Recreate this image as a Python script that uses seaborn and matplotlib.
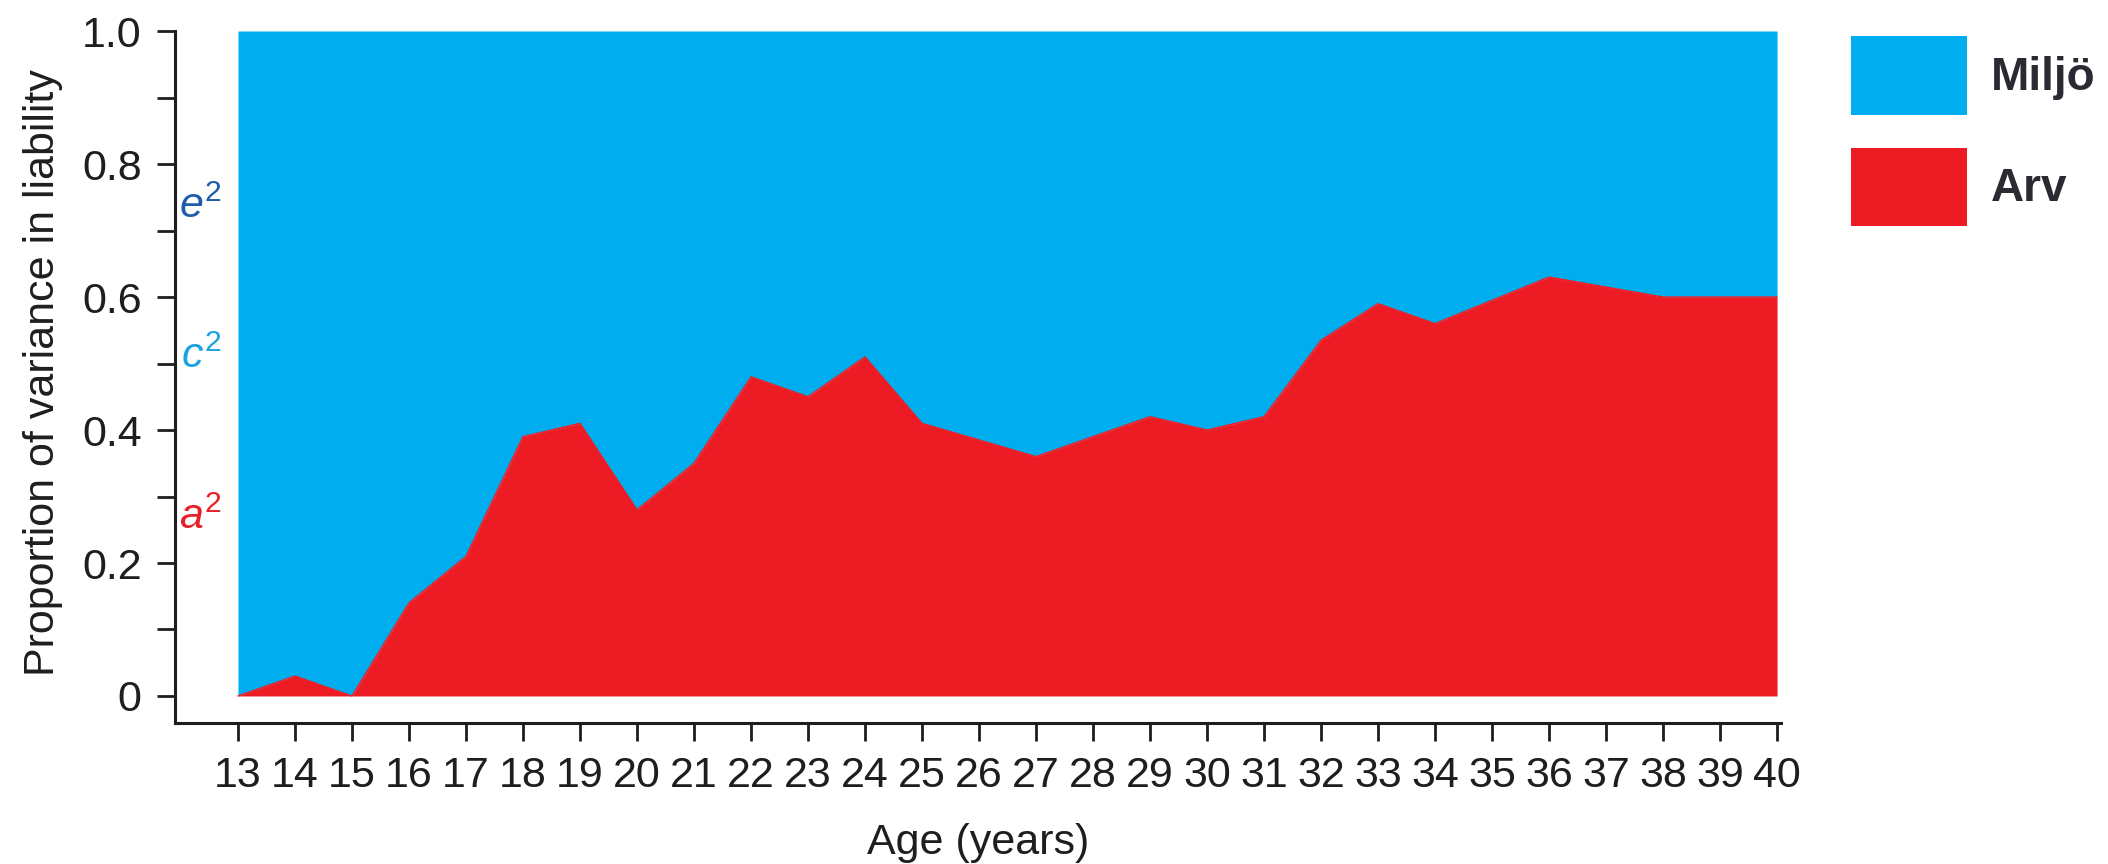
import matplotlib
matplotlib.use("Agg")
from matplotlib import pyplot as plt
from matplotlib.patches import Patch
import seaborn as sns

# values
ages = [13, 14, 15, 16, 17, 18, 19, 20, 21, 22, 23, 24, 25, 26,
        27, 28, 29, 30, 31, 32, 33, 34, 35, 36, 37, 38, 39, 40]
heritability = [0.0, 0.03, 0.0, 0.14, 0.21, 0.39, 0.41, 0.28, 0.35, 0.48,
                0.45, 0.51, 0.41, 0.385, 0.36, 0.39, 0.42, 0.40, 0.42, 0.535,
                0.59, 0.56, 0.595, 0.63, 0.615, 0.60, 0.60, 0.60]
y_ticks = [0, 0.2, 0.4, 0.6, 0.8, 1.0]
y_tick_labels = ["0", "0.2", "0.4", "0.6", "0.8", "1.0"]
y_minor = [0.1, 0.3, 0.5, 0.7, 0.9]
legend_labels = ["Miljö", "Arv"]
component_labels = [r"$\mathit{e}^{2}$", r"$\mathit{c}^{2}$", r"$\mathit{a}^{2}$"]
component_y = [0.735, 0.51, 0.268]

BLUE = "#00AEEF"
RED = "#ED1C24"
component_colors = ["#1F5CAA", "#1AA3DE", "#E8202A"]
INK = "#1e1e1e"

sns.set_theme(style="ticks")
plt.rcParams["font.family"] = ["Liberation Sans", "DejaVu Sans"]
plt.rcParams["mathtext.fontset"] = "custom"
plt.rcParams["mathtext.rm"] = "Liberation Sans"
plt.rcParams["mathtext.it"] = "Liberation Sans:italic"

fig = plt.figure(figsize=(21.08, 8.64), dpi=100)
ax = fig.add_axes([0.083, 0.1632, 0.7619, 0.8009])

ax.fill_between(ages, heritability, 1.0, color=BLUE, linewidth=0)
ax.fill_between(ages, 0, heritability, color=RED, linewidth=0)
sns.lineplot(x=ages, y=heritability, color=RED, linewidth=1, ax=ax)

for lab, yy, col in zip(component_labels, component_y, component_colors):
    ax.text(12.35, yy, lab, color=col, fontsize=31, ha="center", va="center")

ax.set_xlim(11.895, 40.07)
ax.set_ylim(-0.0406, 1.0)
ax.set_xticks(ages)
ax.set_xticklabels([str(a) for a in ages])
ax.set_yticks(y_ticks)
ax.set_yticklabels(y_tick_labels)
ax.set_yticks(y_minor, minor=True)

ax.tick_params(axis="x", which="major", length=13, width=2, pad=11,
               labelsize=31, colors=INK)
ax.tick_params(axis="y", which="major", length=13, width=2, pad=11,
               labelsize=31, colors=INK)
ax.tick_params(axis="y", which="minor", length=13, width=2, color=INK)

sns.despine(ax=ax)
for side in ["left", "bottom"]:
    ax.spines[side].set_linewidth(2.2)
    ax.spines[side].set_color(INK)

ax.set_xlabel("Age (years)", fontsize=31, color=INK)
ax.set_ylabel("Proportion of variance in liability", fontsize=31, color=INK)
ax.xaxis.set_label_coords(0.5, -0.145)
ax.yaxis.set_label_coords(-0.07, 0.506)

handles = [Patch(facecolor=BLUE, edgecolor="none"),
           Patch(facecolor=RED, edgecolor="none")]
leg = fig.legend(handles, legend_labels, loc="upper left",
                 bbox_to_anchor=(0.878, 0.958), frameon=False,
                 prop={"size": 33, "weight": "bold"},
                 handlelength=2.54, handleheight=2.25, labelspacing=0.72,
                 handletextpad=0.52, borderpad=0, borderaxespad=0)
for t in leg.get_texts():
    t.set_color("#2a2a33")

fig.savefig("out.png", dpi=100)
